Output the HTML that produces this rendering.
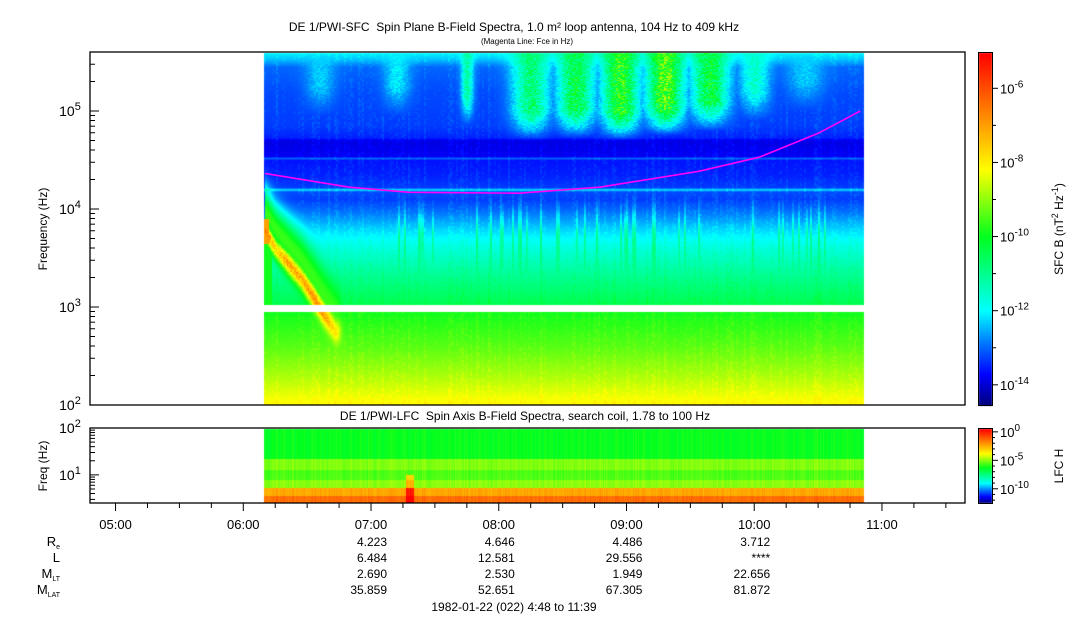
<!DOCTYPE html>
<html><head><meta charset="utf-8">
<style>
body{margin:0;background:#fff;width:1083px;height:620px;overflow:hidden;font-family:"Liberation Sans",sans-serif;}
#wrap{position:relative;width:1083px;height:620px;}
canvas,svg{position:absolute;left:0;top:0;}
</style></head>
<body>
<div id="wrap">
<canvas id="cv" width="1083" height="620"></canvas>
<svg id="sv" width="1083" height="620"></svg>
</div>
<script>
// ---- data ----
const timeStart = 4.8, timeEnd = 11.65;
const dataStart = 6.16, dataEnd = 10.86;
const hourTicks = [5,6,7,8,9,10,11];
const hourLabels = ["05:00","06:00","07:00","08:00","09:00","10:00","11:00"];
const bgLogF  = [2.0, 2.25, 2.6, 2.95, 3.0, 3.3, 3.6, 3.8, 4.0, 4.1, 4.18, 4.2, 4.22, 4.35, 4.5, 4.52, 4.54, 4.7, 4.73, 4.85, 5.2, 5.45, 5.53, 5.61];
const bgLevel = [-8.1,-8.7,-9.4,-9.9,-10.4,-11.0,-11.7,-12.3,-13.0,-13.3,-13.2,-12.1,-13.3,-13.5,-13.6,-13.0,-13.8,-13.9,-13.5,-13.3,-13.2,-13.0,-12.4,-12.0];
// upper-band bursts: [centre hour, width hour, peak level, lower logF]
const bursts = [[6.6,0.2,-12.3,4.95],[7.2,0.18,-12.1,4.95],[7.75,0.08,-11.2,4.85],[8.25,0.25,-10.8,4.7],[8.6,0.25,-10.4,4.72],[8.95,0.25,-9.8,4.7],[9.3,0.25,-9.5,4.75],[9.65,0.25,-10.3,4.8],[10.0,0.2,-11.6,4.9],[10.4,0.25,-12.3,5.0]];
// chorus feature path (hour, logF, level)
const chorusT = [6.17,6.25,6.35,6.45,6.55,6.62,6.72];
const chorusF = [3.78,3.6,3.45,3.3,3.1,2.95,2.75];
const chorusL = [-6.4,-7.6,-6.8,-7.0,-6.6,-6.8,-7.8];
const fceT = [6.17,6.83,7.30,8.16,8.79,9.57,10.04,10.51,10.83];
const fceV = [23100,16700,14800,14500,16700,24300,33800,60000,100000];
const lfcTop = [2.0,1.35,1.12,0.9,0.72,0.55];
const lfcBot = [1.35,1.12,0.9,0.72,0.55,0.4];
const lfcLev = [-6.2,-5.0,-5.5,-4.9,-2.3,-1.3];
const orbT = [7,8,9,10];
const orbRe = ["4.223","4.646","4.486","3.712"];
const orbL = ["6.484","12.581","29.556","****"];
const orbMLT = ["2.690","2.530","1.949","22.656"];
const orbMLAT = ["35.859","52.651","67.305","81.872"];

// ---- geometry ----
const X0=90,X1=965;
const xT = h => X0 + (h-timeStart)/(timeEnd-timeStart)*(X1-X0);
const T1=52,B1=405; const yF = lf => B1-(lf-2)*98;
const T2=428,B2=503; const yF2 = lf => B2-(lf-0.4)*(75/1.6);
function interp(xs,ys,x){if(x<=xs[0])return ys[0];for(let i=1;i<xs.length;i++){if(x<=xs[i]){const t=(x-xs[i-1])/(xs[i]-xs[i-1]);return ys[i-1]+t*(ys[i]-ys[i-1]);}}return ys[ys.length-1];}
const cmX=[0,0.09,0.18,0.27,0.48,0.67,0.82,1];
const cmC=[[0,0,120],[0,0,255],[0,120,255],[0,255,255],[0,255,30],[255,255,0],[255,140,0],[255,0,0]];
function cmap(t){t=Math.max(0,Math.min(1,t));for(let i=1;i<cmX.length;i++){if(t<=cmX[i]){const u=(t-cmX[i-1])/(cmX[i]-cmX[i-1]);return cmC[i-1].map((c,k)=>Math.round(c+u*(cmC[i][k]-c)));}}return cmC[7];}
const tv1 = v => 0.06 + (v+14)*0.105;
const tv2 = v => (v+12.5)/13;
function hsh(a,b){let h=(a*374761393+b*668265263)|0;h=(h^(h>>>13))*1274126177|0;return ((h^(h>>>16))>>>0)/4294967296;}

const cv=document.getElementById('cv');const ctx=cv.getContext('2d');
const img=ctx.createImageData(1083,620);
function put(x,y,c){const i=(y*1083+x)*4;img.data[i]=c[0];img.data[i+1]=c[1];img.data[i+2]=c[2];img.data[i+3]=255;}
const xs=Math.round(xT(dataStart)), xe=Math.round(xT(dataEnd));
const chEnd=chorusT[chorusT.length-1];
for(let x=xs;x<xe;x++){
  const h=timeStart+(x-X0)/(X1-X0)*(timeEnd-timeStart);
  const col=hsh(x>>1,7)-0.5;
  const cf=interp(chorusT,chorusF,h), cl=interp(chorusT,chorusL,h);
  const chFade=h<=chEnd?1:Math.exp(-Math.pow((h-chEnd)/0.04,2));
  for(let y=T1+1;y<B1;y++){
    if(y>=305&&y<312)continue;
    const lf=2+(B1-y)/98;
    const base=interp(bgLogF,bgLevel,lf);
    let v=base+col*0.3+(hsh(x>>1,y>>1)-0.5)*0.3;
    for(const b of bursts){
      if(lf>b[3]){const d=(h-b[0])/b[1];const w=Math.exp(-d*d*1.5);const fw=Math.min(1,(lf-b[3])/0.3);
        v=Math.max(v,base+(b[2]-base)*w*w*fw*(0.7+0.6*hsh(x>>1,y)));}
    }
    if(lf<4.2&&lf>3.3&&h>7.2&&h<10.6){if(hsh(x>>1,3)>0.82)v+=1.0*(1-Math.abs(lf-3.75)/0.45);}
    if(h>=6.17){const df=(lf-cf)/0.12;const w=Math.exp(-df*df)*chFade;v=Math.max(v,base+(cl-base)*w*(0.8+0.3*hsh(x,y)));
      const df2=(lf-cf-0.2)/0.25;v=Math.max(v,base+(-9.6-base)*Math.exp(-df2*df2)*chFade);}
    if(h<6.2&&lf>3.65&&lf<3.9)v=Math.max(v,-7.0);
    if(h<6.22&&lf>3.0&&lf<3.65)v=Math.max(v,-9.9);
    put(x,y,cmap(tv1(v)));
  }
  for(let y=T2+1;y<B2;y++){
    const lf=0.4+(B2-y)/(75/1.6);
    let v=lfcLev[0];
    for(let i=0;i<lfcTop.length;i++){if(lf<=lfcTop[i]&&lf>lfcBot[i])v=lfcLev[i];}
    v+=(hsh(x,11)-0.5)*0.5;
    if(Math.abs(h-7.3)<0.03&&lf<1.0)v+=2.5;
    put(x,y,cmap(tv2(v)));
  }
}
for(let y=53;y<406;y++){const t=1-(y-53)/353;for(let x=979;x<992;x++)put(x,y,cmap(t));}
for(let y=429;y<503;y++){const t=1-(y-429)/74;for(let x=979;x<992;x++)put(x,y,cmap(t));}
ctx.putImageData(img,0,0);

// ---- SVG overlay ----
const sv=document.getElementById('sv');const NS='http://www.w3.org/2000/svg';
function el(tag,attrs,parent){const e=document.createElementNS(NS,tag);for(const k in attrs)e.setAttribute(k,attrs[k]);(parent||sv).appendChild(e);return e;}
function txt(x,y,s,size,anchor,name){const t=el('text',{x:x,y:y,'font-size':size,'text-anchor':anchor||'middle','font-family':'Liberation Sans, sans-serif',fill:'#000'});t.textContent=s;


return t;}
let d='';fceT.forEach((t,i)=>{d+=(i?'L':'M')+xT(t).toFixed(1)+','+yF(Math.log10(fceV[i])).toFixed(1);});
const fl=el('path',{d:d,fill:'none',stroke:'#ff00ff','stroke-width':1.6,'stroke-linejoin':'round'});


const f1=el('rect',{x:X0,y:T1,width:X1-X0,height:B1-T1,fill:'none',stroke:'#000','stroke-width':1.3});


const f2=el('rect',{x:X0,y:T2,width:X1-X0,height:B2-T2,fill:'none',stroke:'#000','stroke-width':1.3});


el('rect',{x:978.5,y:52.5,width:14,height:353,fill:'none',stroke:'#000','stroke-width':1});
el('rect',{x:978.5,y:428.5,width:14,height:75,fill:'none',stroke:'#000','stroke-width':1});
for(let dec=2;dec<=5;dec++){for(let m=1;m<10;m++){const lf=dec+Math.log10(m);if(lf>5.61)break;const y=yF(lf);el('line',{x1:X0,x2:X0+(m==1?9:5),y1:y,y2:y,stroke:'#000'});}
  const t=txt(70,yF(dec)+5,'10',14,'middle','y-tick-label');const s=el('tspan',{dy:-6,'font-size':11},t);s.textContent=dec;}
for(let dec=0;dec<=2;dec++){for(let m=1;m<10;m++){const lf=dec+Math.log10(m);if(lf<0.4||lf>2)continue;const y=yF2(lf);el('line',{x1:X0,x2:X0+(m==1?9:5),y1:y,y2:y,stroke:'#000'});}}
[1,2].forEach(dec=>{const t=txt(70,yF2(dec)+5,'10',14,'middle','lfc-y-tick-label');const s=el('tspan',{dy:-6,'font-size':11},t);s.textContent=dec;});
for(let q=5*4;q<=11.5*4;q++){const h=q/4;if(h<timeStart)continue;const x=xT(h);const major=q%4==0;
  el('line',{x1:x,x2:x,y1:B2,y2:B2+(major?8:5),stroke:'#000'});}
hourTicks.forEach((h,i)=>txt(xT(h),529,hourLabels[i],13,'middle','x-tick-label'));
[-6,-8,-10,-12,-14].forEach(p=>{const y=53+(1-tv1(p))*353;el('line',{x1:992,x2:998,y1:y,y2:y,stroke:'#000'});
  const t=txt(1000,y+5,'10',13,'start','colorbar-tick-label');const s=el('tspan',{dy:-6,'font-size':10},t);s.textContent=p;});
[-7,-9,-11,-13].forEach(p=>{const y=53+(1-tv1(p))*353;el('line',{x1:992,x2:996,y1:y,y2:y,stroke:'#000'});});
for(let p=-12;p<=0;p++){const y=429+(1-tv2(p))*74;el('line',{x1:992,x2:(p%5==0?998:995),y1:y,y2:y,stroke:'#000'});}
[0,-5,-10].forEach(p=>{const y=429+(1-tv2(p))*74;
  const t=txt(1000,y+5,'10',13,'start','lfc-colorbar-tick-label');const s=el('tspan',{dy:-6,'font-size':10},t);s.textContent=p;});
txt(514,31,'DE 1/PWI-SFC\u00a0 Spin Plane B-Field Spectra, 1.0 m\u00b2 loop antenna, 104 Hz to 409 kHz',12,'middle','main-title');
txt(527,44,'(Magenta Line: Fce in Hz)',8,'middle','subtitle');
txt(525,420,'DE 1/PWI-LFC\u00a0 Spin Axis B-Field Spectra, search coil, 1.78 to 100 Hz',12,'middle','lfc-title');
const yl=txt(0,0,'Frequency (Hz)',12,'middle','y-axis-title');yl.setAttribute('transform','translate(47,229) rotate(-90)');
const yl2=txt(0,0,'Freq (Hz)',12,'middle','lfc-y-axis-title');yl2.setAttribute('transform','translate(47,466) rotate(-90)');
const cb=txt(0,0,'SFC B (nT',12,'middle','colorbar-title');cb.setAttribute('transform','translate(1063,229) rotate(-90)');
{const a=el('tspan',{dy:-5,'font-size':9},cb);a.textContent='2';const b=el('tspan',{dy:5},cb);b.textContent=' Hz';const c=el('tspan',{dy:-5,'font-size':9},cb);c.textContent='-1';const e=el('tspan',{dy:5},cb);e.textContent=')';}
const cb2=txt(0,0,'LFC H',12,'middle','lfc-colorbar-title');cb2.setAttribute('transform','translate(1063,466) rotate(-90)');
const rows=[['R','e',orbRe,546],['L','',orbL,562],['M','LT',orbMLT,578],['M','LAT',orbMLAT,594]];
rows.forEach(r=>{const t=txt(60,r[3],r[0],13,'end','orbit-row-label');if(r[1]){const s=el('tspan',{dy:3,'font-size':7},t);s.textContent=r[1];}
  r[2].forEach((v,i)=>txt(xT(orbT[i])+16,r[3],v,12,'end','orbit-value'));});
txt(514,611,'1982-01-22 (022) 4:48 to 11:39',12,'middle','date-range');
</script>
</body></html>
